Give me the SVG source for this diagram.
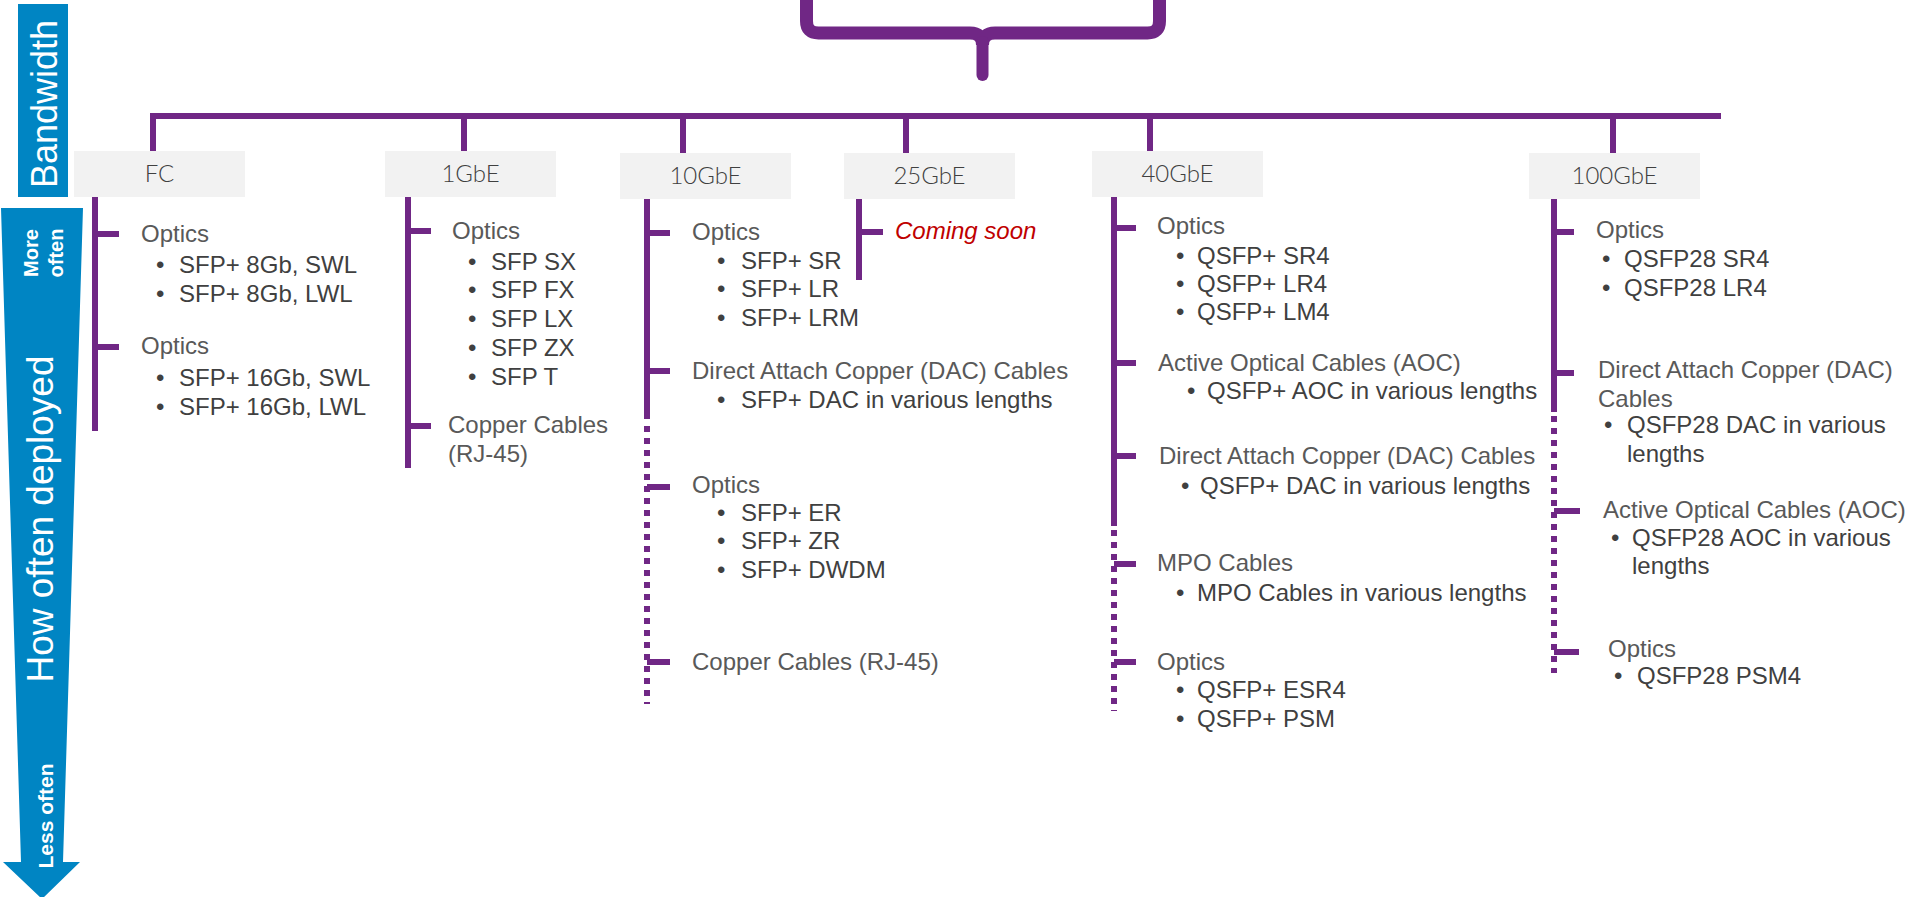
<svg xmlns="http://www.w3.org/2000/svg" width="1909" height="897" viewBox="0 0 1909 897">
<style>
.ln{stroke:#702785;stroke-width:6;fill:none}
.dt{stroke:#702785;stroke-width:6;fill:none;stroke-dasharray:6 6}
.box{fill:#f2f2f2}
.hdr{font-family:Lato,"Liberation Sans",sans-serif;font-weight:300;font-size:24px;fill:#404040;text-anchor:middle}
.h{font-family:"Liberation Sans",Arial,sans-serif;font-size:24px;fill:#595959}
.b{font-family:"Liberation Sans",Arial,sans-serif;font-size:24px;fill:#404040}
.soon{font-family:"Liberation Sans",Arial,sans-serif;font-size:24px;font-style:italic;fill:#c00000}
.wt{font-family:"Liberation Sans",Arial,sans-serif;fill:#ffffff;text-anchor:middle}
</style>
<rect width="1909" height="897" fill="#ffffff"/>
<g id="axis-bandwidth">
<rect x="18" y="4" width="50" height="193" fill="#0085c3"/>
<text class="wt" font-size="36" transform="translate(57,104) rotate(-90)">Bandwidth</text>
</g>
<g id="axis-deployment">
<polygon points="1,208 83,208 63,862 80,862 42,899 3,862 21,862" fill="#0085c3"/>
<text class="wt" font-size="20" font-weight="bold" transform="translate(38,253) rotate(-90)">More</text>
<text class="wt" font-size="20" font-weight="bold" transform="translate(63,253) rotate(-90)">often</text>
<text class="wt" font-size="37" transform="translate(53,519) rotate(-90)">How often deployed</text>
<text class="wt" font-size="21" font-weight="bold" transform="translate(53,816) rotate(-90)">Less often</text>
</g>
<g id="brace">
<path class="ln" style="stroke-width:13" d="M806.5 0 L806.5 21 Q806.5 33 818.5 33 L970 33 Q982.5 33 982.5 45 M982.5 45 Q982.5 33 995 33 L1147.5 33 Q1159.5 33 1159.5 21 L1159.5 0"/>
<path class="ln" style="stroke-width:12;stroke-linecap:round" d="M982.5 42 L982.5 75"/>
</g>
<g id="connectors">
<line class="ln" x1="150" y1="116" x2="1721" y2="116"/>
<line class="ln" x1="153" y1="113" x2="153" y2="151"/>
<line class="ln" x1="464" y1="116" x2="464" y2="151"/>
<line class="ln" x1="683" y1="116" x2="683" y2="153"/>
<line class="ln" x1="906" y1="116" x2="906" y2="153"/>
<line class="ln" x1="1150" y1="116" x2="1150" y2="151"/>
<line class="ln" x1="1613" y1="116" x2="1613" y2="153"/>
<!-- FC -->
<line class="ln" x1="95" y1="197" x2="95" y2="431"/>
<line class="ln" x1="95" y1="234" x2="119" y2="234"/>
<line class="ln" x1="95" y1="347" x2="119" y2="347"/>
<!-- 1GbE -->
<line class="ln" x1="408" y1="197" x2="408" y2="468"/>
<line class="ln" x1="408" y1="231" x2="431" y2="231"/>
<line class="ln" x1="408" y1="426" x2="431" y2="426"/>
<!-- 10GbE -->
<line class="ln" x1="647" y1="199" x2="647" y2="419"/>
<line class="dt" x1="647" y1="426" x2="647" y2="704"/>
<line class="ln" x1="647" y1="233" x2="670" y2="233"/>
<line class="ln" x1="647" y1="371" x2="670" y2="371"/>
<line class="ln" x1="647" y1="487" x2="670" y2="487"/>
<line class="ln" x1="647" y1="662" x2="670" y2="662"/>
<!-- 25GbE -->
<line class="ln" x1="859" y1="199" x2="859" y2="280"/>
<line class="ln" x1="859" y1="232" x2="883" y2="232"/>
<!-- 40GbE -->
<line class="ln" x1="1114" y1="197" x2="1114" y2="526"/>
<line class="dt" x1="1114" y1="530" x2="1114" y2="711"/>
<line class="ln" x1="1114" y1="228" x2="1136" y2="228"/>
<line class="ln" x1="1114" y1="363" x2="1136" y2="363"/>
<line class="ln" x1="1114" y1="456" x2="1136" y2="456"/>
<line class="ln" x1="1114" y1="564" x2="1136" y2="564"/>
<line class="ln" x1="1114" y1="662" x2="1136" y2="662"/>
<!-- 100GbE -->
<line class="ln" x1="1554" y1="199" x2="1554" y2="412"/>
<line class="dt" x1="1554" y1="416" x2="1554" y2="673"/>
<line class="ln" x1="1554" y1="232" x2="1574" y2="232"/>
<line class="ln" x1="1554" y1="373" x2="1574" y2="373"/>
<line class="ln" x1="1554" y1="511" x2="1580" y2="511"/>
<line class="ln" x1="1554" y1="652" x2="1579" y2="652"/>
</g>
<g id="node-fc">
<rect class="box" x="74" y="151" width="171" height="46"/>
<text class="hdr" x="159.5" y="182">FC</text>
<text class="h" x="141" y="242">Optics</text>
<text class="b" y="273"><tspan x="156">•</tspan><tspan x="179">SFP+ 8Gb, SWL</tspan></text>
<text class="b" y="302"><tspan x="156">•</tspan><tspan x="179">SFP+ 8Gb, LWL</tspan></text>
<text class="h" x="141" y="354">Optics</text>
<text class="b" y="386"><tspan x="156">•</tspan><tspan x="179">SFP+ 16Gb, SWL</tspan></text>
<text class="b" y="415"><tspan x="156">•</tspan><tspan x="179">SFP+ 16Gb, LWL</tspan></text>
</g>
<g id="node-1gbe">
<rect class="box" x="385" y="151" width="171" height="46"/>
<text class="hdr" x="470.5" y="182">1GbE</text>
<text class="h" x="452" y="239">Optics</text>
<text class="b" y="270"><tspan x="468">•</tspan><tspan x="491">SFP SX</tspan></text>
<text class="b" y="298"><tspan x="468">•</tspan><tspan x="491">SFP FX</tspan></text>
<text class="b" y="327"><tspan x="468">•</tspan><tspan x="491">SFP LX</tspan></text>
<text class="b" y="356"><tspan x="468">•</tspan><tspan x="491">SFP ZX</tspan></text>
<text class="b" y="385"><tspan x="468">•</tspan><tspan x="491">SFP T</tspan></text>
<text class="h" x="448" y="433">Copper Cables</text>
<text class="h" x="448" y="462">(RJ-45)</text>
</g>
<g id="node-10gbe">
<rect class="box" x="620" y="153" width="171" height="46"/>
<text class="hdr" x="705.5" y="184">10GbE</text>
<text class="h" x="692" y="240">Optics</text>
<text class="b" y="269"><tspan x="717">•</tspan><tspan x="741">SFP+ SR</tspan></text>
<text class="b" y="297"><tspan x="717">•</tspan><tspan x="741">SFP+ LR</tspan></text>
<text class="b" y="326"><tspan x="717">•</tspan><tspan x="741">SFP+ LRM</tspan></text>
<text class="h" x="692" y="379">Direct Attach Copper (DAC) Cables</text>
<text class="b" y="408"><tspan x="717">•</tspan><tspan x="741">SFP+ DAC in various lengths</tspan></text>
<text class="h" x="692" y="493">Optics</text>
<text class="b" y="521"><tspan x="717">•</tspan><tspan x="741">SFP+ ER</tspan></text>
<text class="b" y="549"><tspan x="717">•</tspan><tspan x="741">SFP+ ZR</tspan></text>
<text class="b" y="578"><tspan x="717">•</tspan><tspan x="741">SFP+ DWDM</tspan></text>
<text class="h" x="692" y="670">Copper Cables (RJ-45)</text>
</g>
<g id="node-25gbe">
<rect class="box" x="844" y="153" width="171" height="46"/>
<text class="hdr" x="929.5" y="184">25GbE</text>
<text class="soon" x="895" y="239">Coming soon</text>
</g>
<g id="node-40gbe">
<rect class="box" x="1092" y="151" width="171" height="46"/>
<text class="hdr" x="1177.5" y="182">40GbE</text>
<text class="h" x="1157" y="234">Optics</text>
<text class="b" y="264"><tspan x="1176">•</tspan><tspan x="1197">QSFP+ SR4</tspan></text>
<text class="b" y="292"><tspan x="1176">•</tspan><tspan x="1197">QSFP+ LR4</tspan></text>
<text class="b" y="320"><tspan x="1176">•</tspan><tspan x="1197">QSFP+ LM4</tspan></text>
<text class="h" x="1158" y="371">Active Optical Cables (AOC)</text>
<text class="b" y="399"><tspan x="1187">•</tspan><tspan x="1207">QSFP+ AOC in various lengths</tspan></text>
<text class="h" x="1159" y="464">Direct Attach Copper (DAC) Cables</text>
<text class="b" y="494"><tspan x="1181">•</tspan><tspan x="1200">QSFP+ DAC in various lengths</tspan></text>
<text class="h" x="1157" y="571">MPO Cables</text>
<text class="b" y="601"><tspan x="1176">•</tspan><tspan x="1197">MPO Cables in various lengths</tspan></text>
<text class="h" x="1157" y="670">Optics</text>
<text class="b" y="698"><tspan x="1176">•</tspan><tspan x="1197">QSFP+ ESR4</tspan></text>
<text class="b" y="727"><tspan x="1176">•</tspan><tspan x="1197">QSFP+ PSM</tspan></text>
</g>
<g id="node-100gbe">
<rect class="box" x="1529" y="153" width="171" height="46"/>
<text class="hdr" x="1614.5" y="184">100GbE</text>
<text class="h" x="1596" y="238">Optics</text>
<text class="b" y="267"><tspan x="1602">•</tspan><tspan x="1624">QSFP28 SR4</tspan></text>
<text class="b" y="296"><tspan x="1602">•</tspan><tspan x="1624">QSFP28 LR4</tspan></text>
<text class="h" x="1598" y="378">Direct Attach Copper (DAC)</text>
<text class="h" x="1598" y="407">Cables</text>
<text class="b" y="433"><tspan x="1604">•</tspan><tspan x="1627">QSFP28 DAC in various</tspan></text>
<text class="b" x="1627" y="462">lengths</text>
<text class="h" x="1603" y="518">Active Optical Cables (AOC)</text>
<text class="b" y="546"><tspan x="1611">•</tspan><tspan x="1632">QSFP28 AOC in various</tspan></text>
<text class="b" x="1632" y="574">lengths</text>
<text class="h" x="1608" y="657">Optics</text>
<text class="b" y="684"><tspan x="1614">•</tspan><tspan x="1637">QSFP28 PSM4</tspan></text>
</g>
</svg>
